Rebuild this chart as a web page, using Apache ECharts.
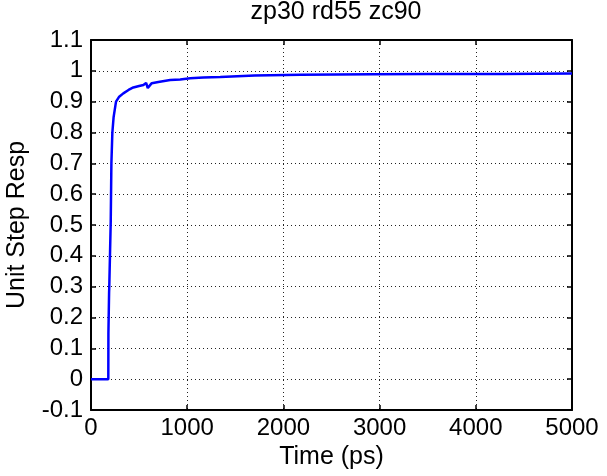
<!DOCTYPE html>
<html>
<head>
<meta charset="utf-8">
<script src="https://cdn.jsdelivr.net/npm/echarts@6/dist/echarts.min.js"></script>
<style>
  html, body { margin: 0; padding: 0; background: #fff; }
  #chart { width: 607px; height: 476px; }
</style>
</head>
<body>
<div id="chart"></div>
<script>
// Step response samples: time in ps, normalized response
const timePs = [0, 180, 181, 188, 190, 205, 212, 222, 235, 260, 290, 336, 390, 440, 500, 545, 565, 573, 582, 590, 610, 632, 700, 823, 927, 1031, 1167, 1344, 1700, 2177, 2927, 3500, 4280, 4290, 5000];
const response = [0, 0, 0.15, 0.28, 0.30, 0.51, 0.70, 0.80, 0.85, 0.90, 0.915, 0.927, 0.938, 0.946, 0.951, 0.954, 0.957, 0.961, 0.952, 0.944, 0.952, 0.960, 0.964, 0.970, 0.972, 0.976, 0.978, 0.980, 0.985, 0.987, 0.989, 0.990, 0.990, 0.991, 0.991];

const titleText = 'zp30 rd55 zc90';
const xName = 'Time (ps)';
const yName = 'Unit Step Resp';

const FONT = '"Liberation Sans", Arial, Helvetica, sans-serif';
const points = timePs.map((t, i) => [t, response[i]]);

const frameLine = { show: true, onZero: false, lineStyle: { color: '#000', width: 2 } };
const tickIn = { show: true, inside: true, length: 5, lineStyle: { color: '#000', width: 1.5 } };
const dotted = { show: true, lineStyle: { color: '#222', width: 1, type: [1, 3] } };

const chart = echarts.init(document.getElementById('chart'), null, { renderer: 'canvas' });
chart.setOption({
  animation: false,
  backgroundColor: '#fff',
  title: {
    text: titleText,
    left: 331, top: -5,
    textAlign: 'center',
    textStyle: { fontFamily: FONT, fontSize: 25, fontWeight: 'normal', color: '#000' }
  },
  grid: { left: 91, top: 40, width: 481, height: 370, containLabel: false, outerBoundsMode: 'none' },
  xAxis: [{
    type: 'value', min: 0, max: 5000, interval: 1000,
    name: xName, nameLocation: 'middle', nameGap: 25,
    nameTextStyle: { fontFamily: FONT, fontSize: 25, color: '#000' },
    axisLine: frameLine, axisTick: tickIn, splitLine: dotted,
    axisLabel: { fontFamily: FONT, fontSize: 24, color: '#000', margin: 6, formatter: v => String(v) }
  }, {
    type: 'value', position: 'top', min: 0, max: 5000, interval: 1000,
    axisLine: frameLine, axisTick: tickIn, splitLine: { show: false },
    axisLabel: { show: false }
  }],
  yAxis: [{
    type: 'value', min: -0.1, max: 1.1, interval: 0.1,
    name: yName, nameLocation: 'middle', nameGap: 61, nameRotate: 90,
    nameTextStyle: { fontFamily: FONT, fontSize: 25, color: '#000' },
    axisLine: frameLine, axisTick: tickIn, splitLine: dotted,
    axisLabel: {
      fontFamily: FONT, fontSize: 24, color: '#000', margin: 8,
      formatter: v => String(Math.round(v * 10) / 10)
    }
  }, {
    type: 'value', position: 'right', min: -0.1, max: 1.1, interval: 0.1,
    axisLine: frameLine, axisTick: tickIn, splitLine: { show: false },
    axisLabel: { show: false }
  }],
  series: [{
    type: 'line',
    data: points,
    showSymbol: false,
    lineStyle: { color: '#0000ff', width: 2.5 },
    clip: true
  }]
});
</script>
</body>
</html>
